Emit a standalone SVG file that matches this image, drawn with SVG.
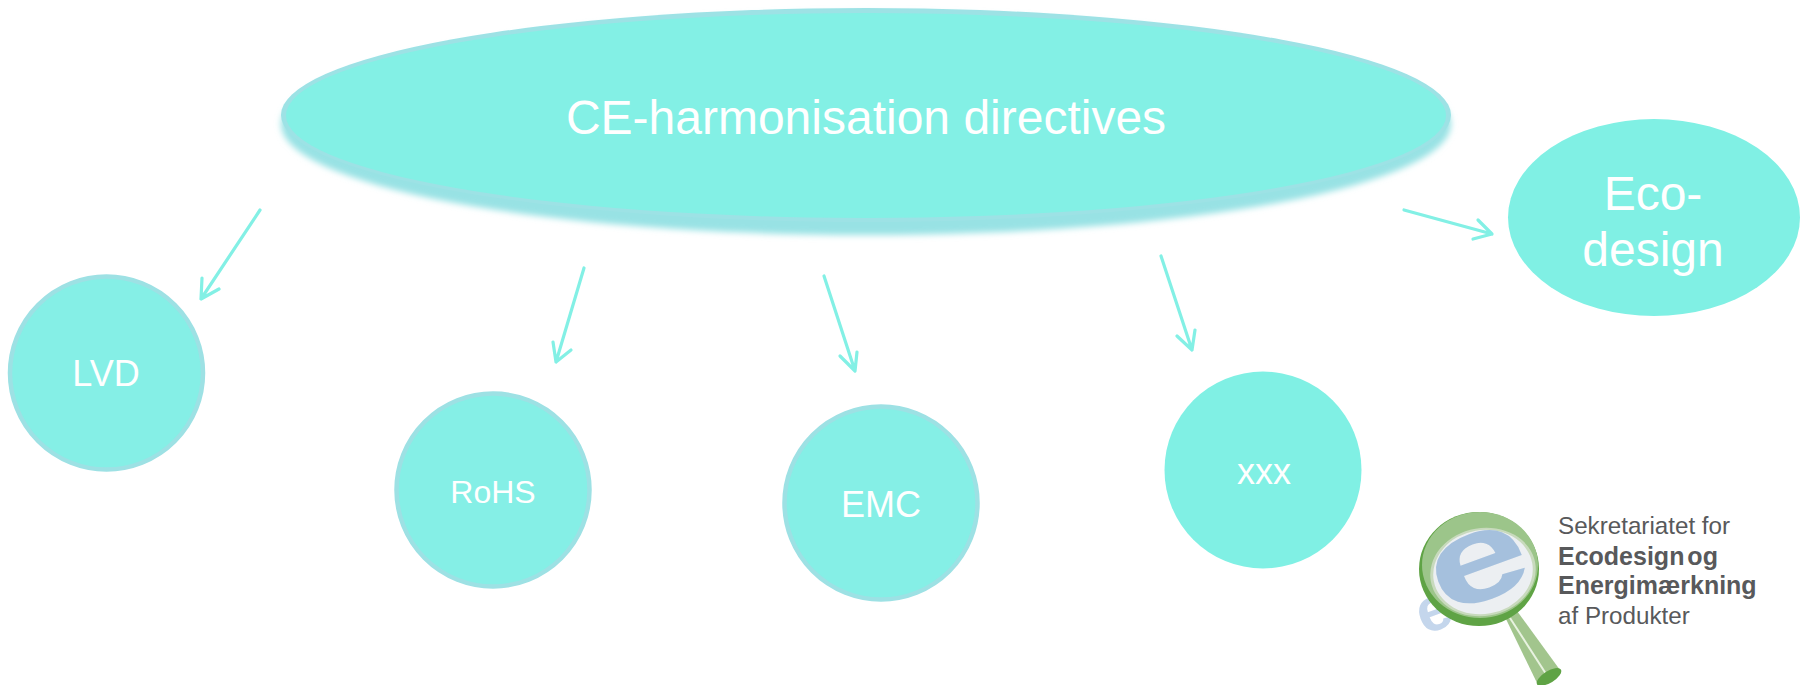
<svg xmlns="http://www.w3.org/2000/svg" width="1809" height="685" viewBox="0 0 1809 685">
<style>
.n{fill:#80f0e4}
.r{fill:#85efe6;stroke:#9de1e4;stroke-width:4.500}
.t{font-family:"Liberation Sans",Arial,sans-serif;fill:#fff;text-anchor:middle}
.c{fill:none;stroke:#83f0e5;stroke-width:3.200;stroke-linecap:round;stroke-linejoin:round}
.l{font-family:"Liberation Sans",Arial,sans-serif;fill:#58595b;font-size:24.200px}
.lb{font-weight:700;font-size:25px}
</style>
<defs>
<filter id="b" x="-5%" y="-20%" width="110%" height="140%"><feGaussianBlur stdDeviation="3"/></filter>
<filter id="s" x="-20%" y="-20%" width="140%" height="140%"><feGaussianBlur stdDeviation="0.600"/></filter>
</defs>
<rect width="1809" height="685" fill="#fff"/>
<g id="connectors">
<path class="c" d="M260 210L201 299M202 278L201 299L219 289"/>
<path class="c" d="M584 268L556 362M553 342L556 362L571 350"/>
<path class="c" d="M824 276L855 371M840 356L855 371L857 352"/>
<path class="c" d="M1161 256L1192 350M1177 336L1192 350L1195 330"/>
<path class="c" d="M1404 210L1492 234M1478 220L1492 234L1473 239"/>
</g>
<g id="node-ce">
<ellipse cx="866" cy="124" rx="585" ry="111" fill="#98e2e4" filter="url(#b)"/>
<ellipse cx="866" cy="115" rx="585" ry="107" fill="#9de2e5"/>
<ellipse cx="866" cy="115.500" rx="580" ry="102.500" fill="#83f0e5"/>
<text class="t" x="866" y="134" font-size="48">CE-harmonisation directives</text>
</g>
<g id="node-eco">
<ellipse cx="1654" cy="217.500" rx="146" ry="98.500" class="n"/>
<text class="t" x="1653" y="210" font-size="48">Eco-</text>
<text class="t" x="1653" y="266" font-size="48">design</text>
</g>
<g id="node-lvd"><circle cx="106.500" cy="373" r="96.500" class="r"/><text class="t" x="106" y="386" font-size="36">LVD</text></g>
<g id="node-rohs"><circle cx="493" cy="490" r="96.500" class="r"/><text class="t" x="493" y="503" font-size="32">RoHS</text></g>
<g id="node-emc"><circle cx="881" cy="503" r="96.500" class="r"/><text class="t" x="881" y="517" font-size="36">EMC</text></g>
<g id="node-xxx"><circle cx="1263" cy="470" r="98.500" class="n"/><text class="t" x="1264" y="484" font-size="36">xxx</text></g>
<g id="logo">
<g filter="url(#s)">
<text x="1435" y="630" text-anchor="middle" font-family="Liberation Sans,sans-serif" font-weight="700" font-size="62" fill="#c4d6ec" transform="rotate(-20 1435 615)">e</text>
<path d="M1505 617L1517 611L1560 670L1538 685Z" fill="#a2c58d"/>
<path d="M1510 618L1548 677" stroke="#e8f2e0" stroke-width="2" fill="none"/>
<ellipse cx="1549" cy="677" rx="14" ry="6" transform="rotate(-32 1549 677)" fill="#5fa344"/>
<ellipse cx="1479" cy="569" rx="60" ry="57" fill="#5fa344"/>
<ellipse cx="1480" cy="565" rx="58" ry="53" fill="#9cc58a"/>
<ellipse cx="1483" cy="572" rx="53" ry="44" transform="rotate(-10 1483 572)" fill="#c8dabd"/>
<ellipse cx="1483" cy="572" rx="50" ry="42" transform="rotate(-10 1483 572)" fill="#eceff2"/>
<text x="0" y="0" text-anchor="middle" font-family="Liberation Sans,sans-serif" font-weight="700" font-size="125" fill="#a5c0dd" transform="translate(1479 567) rotate(-20) scale(1.45 1) translate(0 33)">e</text>
</g>
<text class="l" x="1558" y="534">Sekretariatet for</text>
<text class="l lb" x="1558" y="565" word-spacing="-4">Ecodesign og</text>
<text class="l lb" x="1558" y="594">Energimærkning</text>
<text class="l" x="1558" y="624">af Produkter</text>
</g>
</svg>
